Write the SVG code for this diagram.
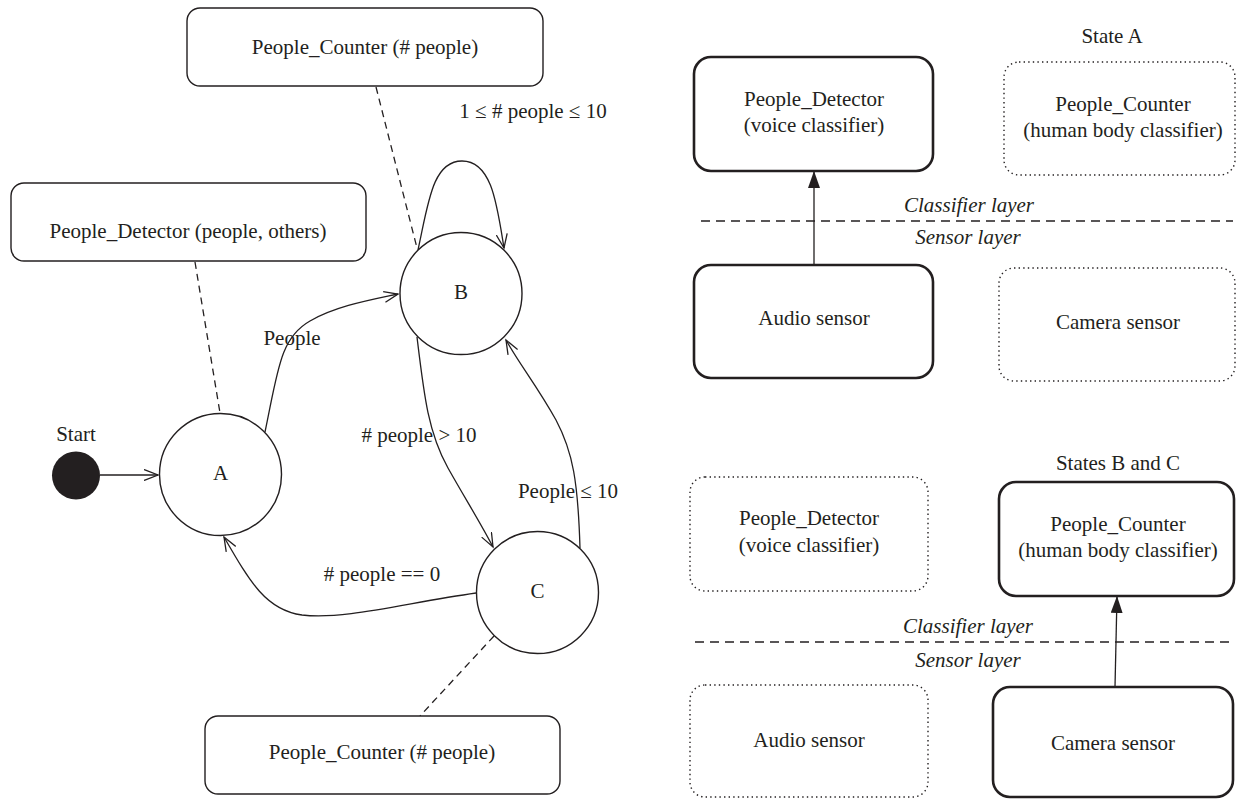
<svg xmlns="http://www.w3.org/2000/svg" width="1237" height="799" viewBox="0 0 1237 799">
<defs>
<marker id="open" markerUnits="userSpaceOnUse" markerWidth="16" markerHeight="12" refX="14" refY="6" orient="auto">
<path d="M0,0.5 L14,6 L0,11.5" fill="none" stroke="#231f20" stroke-width="1.3"/>
</marker>
<marker id="solid" markerUnits="userSpaceOnUse" markerWidth="18" markerHeight="12" refX="17" refY="6" orient="auto">
<path d="M0,0 L17,6 L0,12 z" fill="#231f20"/>
</marker>
</defs>
<style>
text{font-family:"Liberation Serif","Times New Roman",serif;font-size:21px;fill:#231f20;text-anchor:middle}
.it{font-style:italic}
.box{fill:#fff;stroke:#231f20;stroke-width:1.4}
.bold{fill:#fff;stroke:#231f20;stroke-width:2.6}
.dot{fill:#fff;stroke:#231f20;stroke-width:1.4;stroke-dasharray:1.4 3.2}
.state{fill:#fff;stroke:#231f20;stroke-width:1.4}
.edge{fill:none;stroke:#231f20;stroke-width:1.3}
.dash{fill:none;stroke:#231f20;stroke-width:1.3;stroke-dasharray:7 5}
.layer{fill:none;stroke:#231f20;stroke-width:1.4;stroke-dasharray:9 6}
</style>
<rect width="1237" height="799" fill="#fff"/>

<g id="connectors">
<line class="dash" x1="376" y1="87" x2="417" y2="248"/>
<line class="dash" x1="195" y1="262" x2="220" y2="413"/>
<line class="dash" x1="494" y1="636" x2="420" y2="716"/>
<line class="edge" x1="100" y1="475" x2="158" y2="475" marker-end="url(#open)"/>
<path class="edge" d="M265,432 C278,370 280,338 310,321 C336,306 370,300 398,294" marker-end="url(#open)"/>
<path class="edge" d="M418,250 C428,205 432,161 462,161 C492,161 497,205 504,248" marker-end="url(#open)"/>
<path class="edge" d="M417,337 C424,395 428,432 448,468 C466,500 480,522 493,547" marker-end="url(#open)"/>
<path class="edge" d="M580,548 C578,482 573,452 556,420 C537,386 520,365 506,340" marker-end="url(#open)"/>
<path class="edge" d="M476,593 C405,603 345,620 302,615 C266,610 250,582 224,537" marker-end="url(#open)"/>
<line class="edge" x1="814" y1="265" x2="814" y2="171" marker-end="url(#solid)"/>
<line class="edge" x1="1115" y1="687" x2="1117" y2="596" marker-end="url(#solid)"/>
<text x="292" y="345">People</text>
<text x="533" y="118">1 ≤ # people ≤ 10</text>
<text x="419" y="442"># people &gt; 10</text>
<text x="568" y="498">People ≤ 10</text>
<text x="382" y="581"># people == 0</text>
</g>

<g id="counter-top">
<rect class="box" x="187" y="8" width="356" height="78" rx="13"/>
<text x="365" y="54">People_Counter (# people)</text>
</g>
<g id="detector-left">
<rect class="box" x="11" y="183" width="355" height="78" rx="13"/>
<text x="188" y="238">People_Detector (people, others)</text>
</g>
<g id="counter-bottom">
<rect class="box" x="205" y="716" width="355" height="78" rx="13"/>
<text x="382" y="759">People_Counter (# people)</text>
</g>
<g id="start">
<circle cx="76" cy="475.5" r="24" fill="#231f20"/>
<text x="76" y="441">Start</text>
</g>
<g id="state-A">
<circle class="state" cx="220.5" cy="474.5" r="61"/>
<text x="220.5" y="480">A</text>
</g>
<g id="state-B">
<circle class="state" cx="461" cy="293.5" r="61"/>
<text x="461" y="299">B</text>
</g>
<g id="state-C">
<circle class="state" cx="537.5" cy="592.5" r="61"/>
<text x="537.5" y="598">C</text>
</g>

<g id="stateA-panel">
<text x="1112" y="43">State A</text>
<line class="layer" x1="701" y1="221" x2="1233" y2="221"/>
<text class="it" x="969" y="212">Classifier layer</text>
<text class="it" x="968" y="244">Sensor layer</text>
</g>
<g id="a-detector">
<rect class="bold" x="694" y="57" width="239" height="114" rx="17"/>
<text x="814" y="106">People_Detector</text>
<text x="814" y="132">(voice classifier)</text>
</g>
<g id="a-counter">
<rect class="dot" x="1004" y="62" width="231" height="113" rx="15"/>
<text x="1123" y="111">People_Counter</text>
<text x="1123" y="137">(human body classifier)</text>
</g>
<g id="a-audio">
<rect class="bold" x="694" y="265" width="239" height="113" rx="17"/>
<text x="814" y="325">Audio sensor</text>
</g>
<g id="a-camera">
<rect class="dot" x="999" y="268" width="236" height="113" rx="15"/>
<text x="1118" y="329">Camera sensor</text>
</g>

<g id="stateBC-panel">
<text x="1118" y="470">States B and C</text>
<line class="layer" x1="695" y1="642" x2="1233" y2="642"/>
<text class="it" x="968" y="633">Classifier layer</text>
<text class="it" x="968" y="667">Sensor layer</text>
</g>
<g id="bc-detector">
<rect class="dot" x="690" y="477" width="238" height="114" rx="15"/>
<text x="809" y="525">People_Detector</text>
<text x="809" y="552">(voice classifier)</text>
</g>
<g id="bc-counter">
<rect class="bold" x="999" y="482" width="235" height="114" rx="17"/>
<text x="1118" y="531">People_Counter</text>
<text x="1118" y="557">(human body classifier)</text>
</g>
<g id="bc-audio">
<rect class="dot" x="690" y="685" width="238" height="112" rx="15"/>
<text x="809" y="747">Audio sensor</text>
</g>
<g id="bc-camera">
<rect class="bold" x="993" y="687" width="240" height="110" rx="17"/>
<text x="1113" y="750">Camera sensor</text>
</g>
</svg>
